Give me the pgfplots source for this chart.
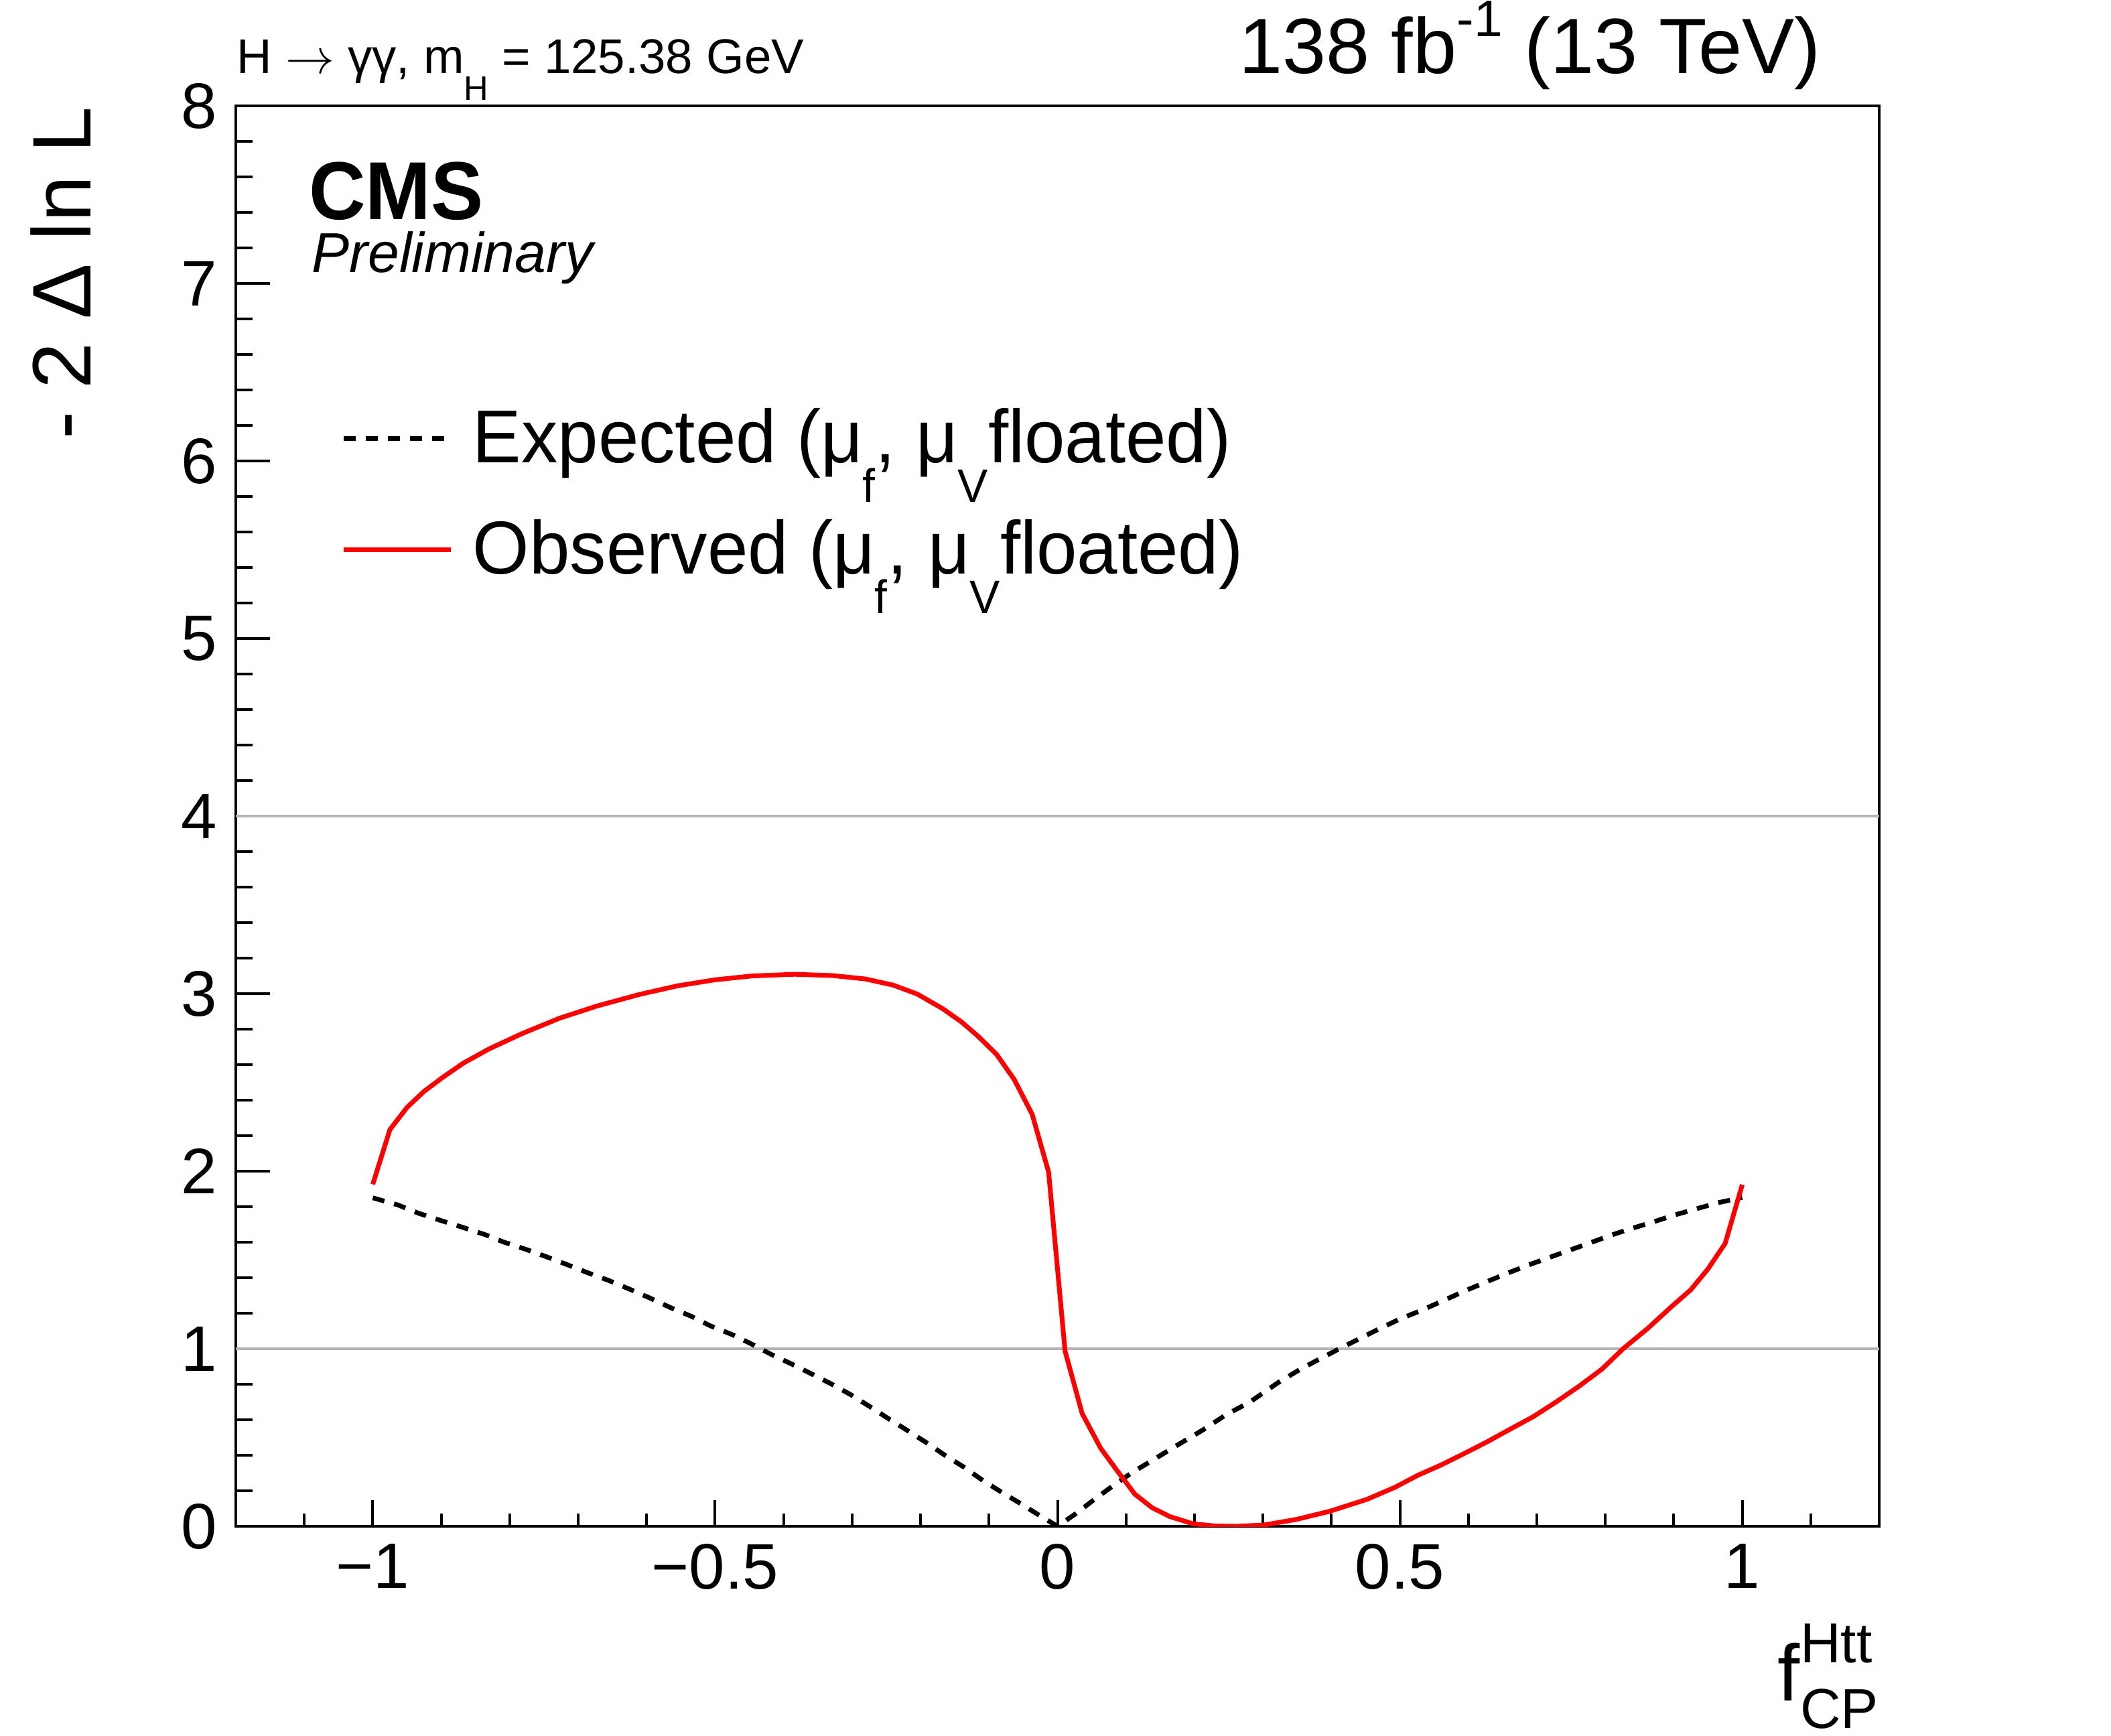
\documentclass[border=0pt]{standalone}
\usepackage{fontspec}
\setmainfont{Liberation Sans}
\newfontfamily\legfont[FakeStretch=0.97]{Liberation Sans}
\newfontfamily\cmsfont[FakeStretch=0.955]{Liberation Sans}
\usepackage{pgfplots}
\pgfplotsset{compat=1.18}
\definecolor{refgray}{RGB}{180,180,180}
\newcommand{\lsub}[1]{\raisebox{-8.85pt}[0pt][0pt]{\fontsize{10.5}{12}\selectfont #1}}
\begin{document}
\begin{tikzpicture}
\useasboundingbox (0,0) rectangle (472.65pt,388.5pt);
% y axis ticks and labels
\begin{axis}[
  at={(52.8pt,46.8pt)}, anchor=south west,
  scale only axis, width=367.95pt, height=318pt,
  xmin=-1.2, xmax=1.2, ymin=0, ymax=8,
  hide x axis,
  ytick={0,1,2,3,4,5,6,7,8},
  minor ytick={0,0.2,...,8},
  ytick pos=lower,
  tick align=inside,
  major tick length=7.65pt, minor tick length=3.75pt,
  every tick/.style={black, line width=0.6pt},
  axis line style={line width=0.7pt},
  /pgf/number format/assume math mode=true,
  yticklabel style={font=\fontsize{14.4}{17}\selectfont, inner sep=0pt, anchor=east, xshift=-4.05pt},
]
\end{axis}
\begin{axis}[
  at={(52.8pt,46.8pt)}, anchor=south west,
  scale only axis, width=367.95pt, height=318pt,
  xmin=-1.2, xmax=1.2, ymin=0, ymax=8,
  xtick={-1,-0.5,0,0.5,1},
  xticklabels={−1,−0.5,0,0.5,1},
  minor xtick={-1.1,-0.9,-0.8,-0.7,-0.6,-0.4,-0.3,-0.2,-0.1,0.1,0.2,0.3,0.4,0.6,0.7,0.8,0.9,1.1},
  ytick=\empty,
  xtick pos=lower,
  tick align=inside,
  major tick length=5.85pt, minor tick length=2.85pt,
  every tick/.style={black, line width=0.6pt},
  axis line style={line width=0.7pt},
  xticklabel style={font=\fontsize{14.4}{17}\selectfont, inner sep=0pt, anchor=north, yshift=-3.75pt},
  ylabel={- 2 Δ ln L},
  ylabel style={at={(axis description cs:-0.08806,1.0)}, anchor=base east, inner sep=0pt, font=\fontsize{18.6}{22}\selectfont},
  xlabel={{\fontsize{17.9}{20}\selectfont f}\rlap{\raisebox{8.55pt}{\fontsize{12.6}{14}\selectfont Htt}}\raisebox{-6.15pt}{\fontsize{12.6}{14}\selectfont CP}},
  xlabel style={at={(axis description cs:1,-0.1231)}, anchor=base east, inner sep=0pt},
  legend style={at={(axis description cs:0.0644,0.7962)}, anchor=north west, draw=none, fill=none,
    inner sep=0pt, outer sep=0pt, row sep=0pt, column sep=4.35pt,
    font=\legfont\fontsize{16.8}{20}\selectfont, nodes={inner sep=0pt, text height=15pt, text depth=10pt}},
  legend cell align=left,
  legend image code/.code={\draw[#1] (0pt,2.9pt) -- (24pt,2.9pt);},
]
\addplot[refgray, line width=0.7pt, forget plot] coordinates {(-1.2,1) (1.2,1)};
\addplot[refgray, line width=0.7pt, forget plot] coordinates {(-1.2,4) (1.2,4)};
\addplot[black, line width=1.05pt, dash pattern=on 2.7pt off 2.25pt] coordinates {
(-1.000,1.850) (-0.964,1.811) (-0.933,1.763) (-0.902,1.724) (-0.868,1.683)
(-0.837,1.644) (-0.809,1.601) (-0.778,1.562) (-0.747,1.519) (-0.717,1.475)
(-0.686,1.428) (-0.655,1.384) (-0.624,1.334) (-0.596,1.287) (-0.566,1.233)
(-0.535,1.183) (-0.507,1.129) (-0.476,1.081) (-0.447,1.027) (-0.418,0.968)
(-0.391,0.919) (-0.360,0.860) (-0.329,0.799) (-0.301,0.739) (-0.274,0.674)
(-0.246,0.604) (-0.219,0.539) (-0.191,0.470) (-0.164,0.399) (-0.137,0.334)
(-0.109,0.258) (-0.082,0.193) (-0.054,0.128) (-0.027,0.063) (0.000,0.000)
(0.027,0.072) (0.054,0.152) (0.082,0.231) (0.109,0.303) (0.140,0.375)
(0.171,0.448) (0.212,0.542) (0.246,0.628) (0.281,0.700) (0.322,0.809)
(0.356,0.888) (0.411,0.999) (0.466,1.105) (0.498,1.164) (0.535,1.222)
(0.565,1.274) (0.595,1.326) (0.626,1.376) (0.656,1.424) (0.686,1.469)
(0.716,1.511) (0.747,1.554) (0.777,1.595) (0.807,1.638) (0.838,1.677)
(0.869,1.713) (0.900,1.752) (0.932,1.787) (0.964,1.822) (1.000,1.852)};
\addlegendentry{Expected (μ\lsub{f}, μ\lsub{V}floated)}
\addplot[red, line width=1.05pt] coordinates {
(-1.000,1.926) (-0.975,2.234) (-0.950,2.359) (-0.925,2.450) (-0.898,2.528)
(-0.868,2.608) (-0.830,2.689) (-0.782,2.775) (-0.727,2.862) (-0.672,2.931)
(-0.610,2.996) (-0.555,3.044) (-0.500,3.078) (-0.445,3.100) (-0.384,3.109)
(-0.329,3.102) (-0.281,3.083) (-0.240,3.048) (-0.205,2.998) (-0.168,2.916)
(-0.140,2.840) (-0.116,2.760) (-0.089,2.658) (-0.063,2.515) (-0.037,2.320)
(-0.013,1.995) (0.011,0.987) (0.036,0.635) (0.063,0.440) (0.089,0.303)
(0.113,0.181) (0.138,0.105) (0.164,0.055) (0.198,0.014) (0.230,0.002)
(0.260,0.000) (0.301,0.007) (0.349,0.039) (0.397,0.084) (0.452,0.152)
(0.493,0.220) (0.526,0.287) (0.560,0.345) (0.594,0.410) (0.627,0.475)
(0.661,0.547) (0.695,0.618) (0.728,0.700) (0.762,0.790) (0.795,0.885)
(0.826,1.000) (0.863,1.118) (0.896,1.235) (0.925,1.333) (0.950,1.450)
(0.975,1.593) (1.000,1.924)};
\addlegendentry{Observed (μ\lsub{f}, μ\lsub{V}floated)}
\end{axis}
\node[anchor=base west, inner sep=0pt, font=\fontsize{10.9}{13}\selectfont] at (52.8pt,372pt)
  {H $\rightarrow$ γγ, m\raisebox{-6pt}[0pt][0pt]{\fontsize{7.6}{9}\selectfont H} = 125.38 GeV};
\node[anchor=base east, inner sep=0pt, font=\fontsize{17.55}{21}\selectfont] at (407.8pt,372pt)
  {138 fb\raisebox{8.25pt}{\fontsize{11.5}{13}\selectfont -1} (13 TeV)};
\node[anchor=base west, inner sep=0pt, font=\cmsfont\fontsize{18.4}{22}\selectfont\bfseries] at (69pt,339.3pt) {CMS};
\node[anchor=base west, inner sep=0pt, font=\fontsize{12.6}{15}\selectfont\itshape] at (69.6pt,327.45pt) {Preliminary};
\end{tikzpicture}
\end{document}
